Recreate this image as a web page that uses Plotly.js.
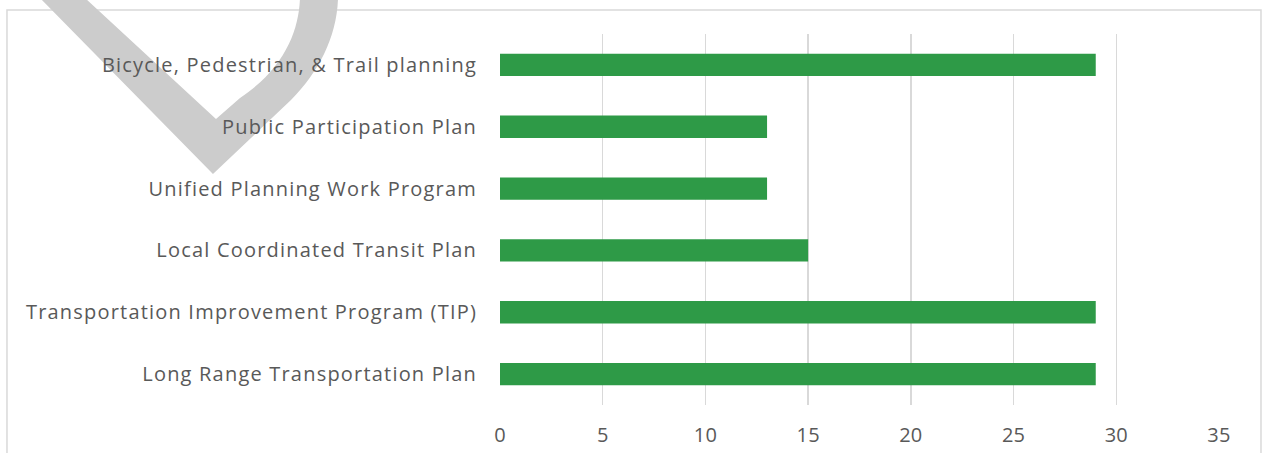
<!DOCTYPE html>
<html>
<head>
<meta charset="utf-8">
<script src="https://cdn.plot.ly/plotly-3.0.1.min.js"></script>
<style>
  html, body { margin: 0; padding: 0; background: #ffffff; }
  #chart { width: 1264px; height: 453px; }
  #chart .ytick text { letter-spacing: 1.2px; }
  #chart .xtick text { letter-spacing: 0.2px; }
</style>
</head>
<body>
<div id="chart"></div>
<script>
// Data (top to bottom as shown)
const categories = [
  "Bicycle, Pedestrian, & Trail planning",
  "Public Participation Plan",
  "Unified Planning Work Program",
  "Local Coordinated Transit Plan",
  "Transportation Improvement Program (TIP)",
  "Long Range Transportation Plan"
];
const values = [29, 13, 13, 15, 29, 29];
const xTicks = [0, 5, 10, 15, 20, 25, 30, 35];

// Layout geometry (pixels)
const W = 1264, H = 453;
const M = { l: 500, r: 45, t: 34, b: 48 };
const PW = W - M.l - M.r, PH = H - M.t - M.b;
function px(x) { return ((x - M.l) / PW).toFixed(4); }
function py(y) { return ((H - M.b - y) / PH).toFixed(4); }

// Decorative grey mark (pixel outline converted to paper coords)
const markPath =
  "M " + px(40) + "," + py(-2) +
  " L " + px(213) + "," + py(174) +
  " L " + px(291) + "," + py(100) +
  " C " + px(319) + "," + py(72) + " " + px(337) + "," + py(36) + " " + px(338) + "," + py(-2) +
  " L " + px(300) + "," + py(-2) +
  " C " + px(299) + "," + py(30) + " " + px(285) + "," + py(68) + " " + px(240) + "," + py(98) +
  " L " + px(216) + "," + py(119) +
  " L " + px(85) + "," + py(-2) + " Z";

const trace = {
  type: "bar",
  orientation: "h",
  y: categories.slice().reverse(),
  x: values.slice().reverse(),
  marker: { color: "#2e9a47", line: { width: 0 } },
  width: 0.36,
  hoverinfo: "x+y"
};

const fontFam = "'Open Sans', 'Noto Sans', sans-serif";

const layout = {
  width: W, height: H,
  margin: M,
  paper_bgcolor: "#ffffff",
  plot_bgcolor: "rgba(0,0,0,0)",
  showlegend: false,
  font: { family: fontFam, size: 20, color: "#595959" },
  xaxis: {
    range: [0, 35],
    tickvals: xTicks,
    ticktext: xTicks.map(String),
    showgrid: true,
    gridcolor: "#d9d9d9",
    gridwidth: 1.5,
    zeroline: false,
    showline: false,
    ticks: "",
    ticklabelstandoff: 16,
    tickfont: { family: fontFam, size: 20, color: "#595959" },
    fixedrange: true
  },
  yaxis: {
    type: "category",
    categoryorder: "array",
    categoryarray: categories.slice().reverse(),
    range: [-0.5, 5.5],
    showgrid: false,
    zeroline: false,
    showline: false,
    ticks: "",
    ticklabelstandoff: 22,
    tickfont: { family: fontFam, size: 20, color: "#595959" },
    fixedrange: true
  },
  shapes: [
    {
      type: "rect", xref: "paper", yref: "paper", layer: "below",
      x0: px(7), x1: px(1261), y0: py(470), y1: py(10),
      line: { color: "#d9d9d9", width: 1.5 }, fillcolor: "rgba(0,0,0,0)"
    },
    {
      type: "path", xref: "paper", yref: "paper", layer: "below",
      path: markPath, fillcolor: "#cccccc", line: { width: 0 }
    }
  ]
};

Plotly.newPlot("chart", [trace], layout, { displayModeBar: false, staticPlot: true });
</script>
</body>
</html>
